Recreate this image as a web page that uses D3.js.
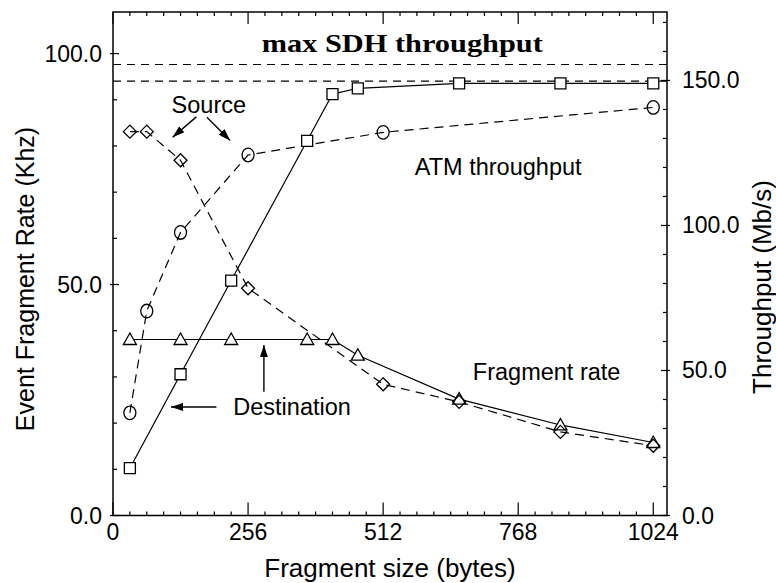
<html>
<head>
<style>
body { margin: 0; background: #fff; }
text { font-family: "Liberation Sans", Arial, sans-serif; fill: #000; }
</style>
</head>
<body>

<svg width="776" height="583" id="chart"></svg>

<script src="https://d3js.org/d3.v7.min.js"></script>
<script>
// fragment sizes (bytes)
var sizesA = [32, 128, 224, 368, 416, 464, 656, 848, 1024];
var sizesSrc = [32, 64, 128, 256, 512, 656, 848, 1024];
var sizesAtm = [32, 64, 128, 256, 512, 1024];

// destination throughput (Mb/s, right axis), squares
var destThroughput = [16.3, 48.7, 81.0, 129.2, 145.3, 147.3, 149.0, 149.0, 149.0];
// destination fragment rate (kHz, left axis), triangles
var destRate = [38.1, 38.1, 38.1, 38.1, 38.1, 34.7, 25.2, 19.6, 15.8];
// source fragment rate (kHz, left axis), diamonds
var srcRate = [83.1, 83.1, 76.9, 49.2, 28.4, 24.6, 18.1, 15.1];
// source ATM throughput (Mb/s, right axis), circles
var atmThroughput = [35.4, 70.5, 97.6, 124.3, 132.1, 140.7];

// max SDH / ATM limits (Mb/s)
var limits = [155.5, 149.8];

var xTicks = [0, 256, 512, 768, 1024];
var yLeftTicks = [0, 50, 100];
var yRightTicks = [0, 50, 100, 150];

var svg = d3.select("#chart");
var pLeft = 113, pRight = 667, pTop = 12, pBottom = 515.5;

var x = d3.scaleLinear().domain([0, 1050]).range([pLeft, pRight]);
var yL = d3.scaleLinear().domain([0, 109]).range([pBottom, pTop]);
var yR = d3.scaleLinear().domain([0, 173.6]).range([pBottom, pTop]);

function zip(xs, ys) {
    return xs.map(function(d, i){ return [d, ys[i]]; });
}

// axes: ticks point into the plot
var minorX = d3.range(32, 1050, 32).filter(function(d){ return d % 256 != 0; });
function tickSet(g, values, fn) {
    g.selectAll("line.t").data(values).enter().append("line")
        .attr("class", "t")
        .attr("stroke", "#000").attr("stroke-width", 1.2)
        .each(fn);
}
var ax = svg.append("g");
tickSet(ax.append("g"), minorX, function(d){
    d3.select(this).attr("x1", x(d)).attr("x2", x(d)).attr("y1", pBottom).attr("y2", pBottom - 4);
});
tickSet(ax.append("g"), xTicks, function(d){
    d3.select(this).attr("x1", x(d)).attr("x2", x(d)).attr("y1", pBottom).attr("y2", pBottom - 13);
});
tickSet(ax.append("g"), minorX, function(d){
    d3.select(this).attr("x1", x(d)).attr("x2", x(d)).attr("y1", pTop).attr("y2", pTop + 4);
});
tickSet(ax.append("g"), xTicks, function(d){
    d3.select(this).attr("x1", x(d)).attr("x2", x(d)).attr("y1", pTop).attr("y2", pTop + 12);
});
tickSet(ax.append("g"), d3.range(0, 109, 10), function(d){
    var major = d % 50 == 0;
    d3.select(this).attr("x1", pLeft - (major ? 3 : 0)).attr("x2", pLeft + (major ? 6 : 4))
        .attr("y1", yL(d)).attr("y2", yL(d));
});
tickSet(ax.append("g"), d3.range(0, 174, 10), function(d){
    var major = d % 50 == 0;
    d3.select(this).attr("x1", pRight + (major ? 3 : 0)).attr("x2", pRight - (major ? 6 : 4))
        .attr("y1", yR(d)).attr("y2", yR(d));
});

svg.append("rect")
    .attr("x", pLeft).attr("y", pTop)
    .attr("width", pRight - pLeft).attr("height", pBottom - pTop)
    .attr("fill", "none").attr("stroke", "#000").attr("stroke-width", 1.5);

svg.selectAll(".xlab").data(xTicks).enter().append("text")
    .attr("x", function(d){ return x(d); }).attr("y", 540)
    .attr("text-anchor", "middle").style("font-size", "23px")
    .text(function(d){ return d; });
svg.selectAll(".ylab").data(yLeftTicks).enter().append("text")
    .attr("x", 102).attr("y", function(d){ return yL(d) + 8; })
    .attr("text-anchor", "end").style("font-size", "23px")
    .text(function(d){ return d.toFixed(1); });
svg.selectAll(".rlab").data(yRightTicks).enter().append("text")
    .attr("x", 682).attr("y", function(d){ return yR(d) + 8; })
    .attr("text-anchor", "start").style("font-size", "23px")
    .text(function(d){ return d.toFixed(1); });

svg.append("text").attr("x", 390).attr("y", 577)
    .attr("text-anchor", "middle").style("font-size", "26px")
    .text("Fragment size (bytes)");
svg.append("text").attr("transform", "translate(34,279) rotate(-90)")
    .attr("text-anchor", "middle").style("font-size", "25px")
    .text("Event Fragment Rate (Khz)");
svg.append("text").attr("transform", "translate(771,287) rotate(-90)")
    .attr("text-anchor", "middle").style("font-size", "26px")
    .text("Throughput (Mb/s)");

// limit lines
svg.selectAll(".limit").data(limits).enter().append("line")
    .attr("x1", pLeft).attr("x2", pRight)
    .attr("y1", function(d){ return yR(d); }).attr("y2", function(d){ return yR(d); })
    .attr("stroke", "#000").attr("stroke-width", 1.2).attr("stroke-dasharray", "8,6");

svg.append("text").attr("x", x(282)).attr("y", yL(100.4))
    .attr("textLength", 281).attr("lengthAdjust", "spacingAndGlyphs")
    .style("font-family", "'Liberation Serif', 'DejaVu Serif', serif")
    .style("font-weight", "bold").style("font-size", "26px")
    .text("max SDH throughput");

// series lines
var series = [
    {pts: zip(sizesA, destThroughput), y: yR, dash: null, shape: "square"},
    {pts: zip(sizesA, destRate), y: yL, dash: null, shape: "triangle"},
    {pts: zip(sizesSrc, srcRate), y: yL, dash: "9,6", shape: "diamond"},
    {pts: zip(sizesAtm, atmThroughput), y: yR, dash: "9,6", shape: "circle"}
];

series.forEach(function(s){
    var line = d3.line().x(function(d){ return x(d[0]); }).y(function(d){ return s.y(d[1]); });
    svg.append("path").datum(s.pts)
        .attr("d", line)
        .attr("fill", "none").attr("stroke", "#000").attr("stroke-width", 1.2)
        .attr("stroke-dasharray", s.dash);
});

var shapes = {
    square: "M-5.5,-5.5H5.5V5.5H-5.5Z",
    triangle: "M0,-6.5L6.5,5L-6.5,5Z",
    diamond: "M0,-6.5L6.5,0L0,6.5L-6.5,0Z",
    circle: "M-6,0A6,6.8 0 1,0 6,0A6,6.8 0 1,0 -6,0Z"
};
series.forEach(function(s){
    var filled = s.shape == "square" || s.shape == "triangle";
    svg.append("g").selectAll("path").data(s.pts).enter().append("path")
        .attr("transform", function(d){ return "translate(" + x(d[0]) + "," + s.y(d[1]) + ")"; })
        .attr("d", shapes[s.shape])
        .attr("fill", filled ? "#fff" : "none")
        .attr("stroke", "#000").attr("stroke-width", 1.3);
});

// annotations, in bytes / left axis units
var notes = [
    {t: "Source", x: 111, y: 87.2},
    {t: "ATM throughput", x: 572, y: 73.7},
    {t: "Fragment rate", x: 682, y: 29.3},
    {t: "Destination", x: 228, y: 21.8}
];
svg.selectAll(".note").data(notes).enter().append("text")
    .attr("x", function(d){ return x(d.x); }).attr("y", function(d){ return yL(d.y); })
    .style("font-size", "23.5px")
    .text(function(d){ return d.t; });

var arrows = [
    [[158, 86.3], [113, 81.9]],
    [[178, 86.2], [222, 81.2]],
    [[196, 23.5], [110, 23.5]],
    [[286, 26.8], [286, 36.9]]
];
svg.append("defs").append("marker")
    .attr("id", "head").attr("viewBox", "0 0 12 8")
    .attr("refX", 12).attr("refY", 4)
    .attr("markerWidth", 12).attr("markerHeight", 8)
    .attr("markerUnits", "userSpaceOnUse").attr("orient", "auto")
    .append("path").attr("d", "M0,0L12,4L0,8Z").attr("fill", "#000");
svg.selectAll(".arrow").data(arrows).enter().append("line")
    .attr("x1", function(d){ return x(d[0][0]); }).attr("y1", function(d){ return yL(d[0][1]); })
    .attr("x2", function(d){ return x(d[1][0]); }).attr("y2", function(d){ return yL(d[1][1]); })
    .attr("stroke", "#000").attr("stroke-width", 1.4)
    .attr("marker-end", "url(#head)");
</script>

</body>
</html>
